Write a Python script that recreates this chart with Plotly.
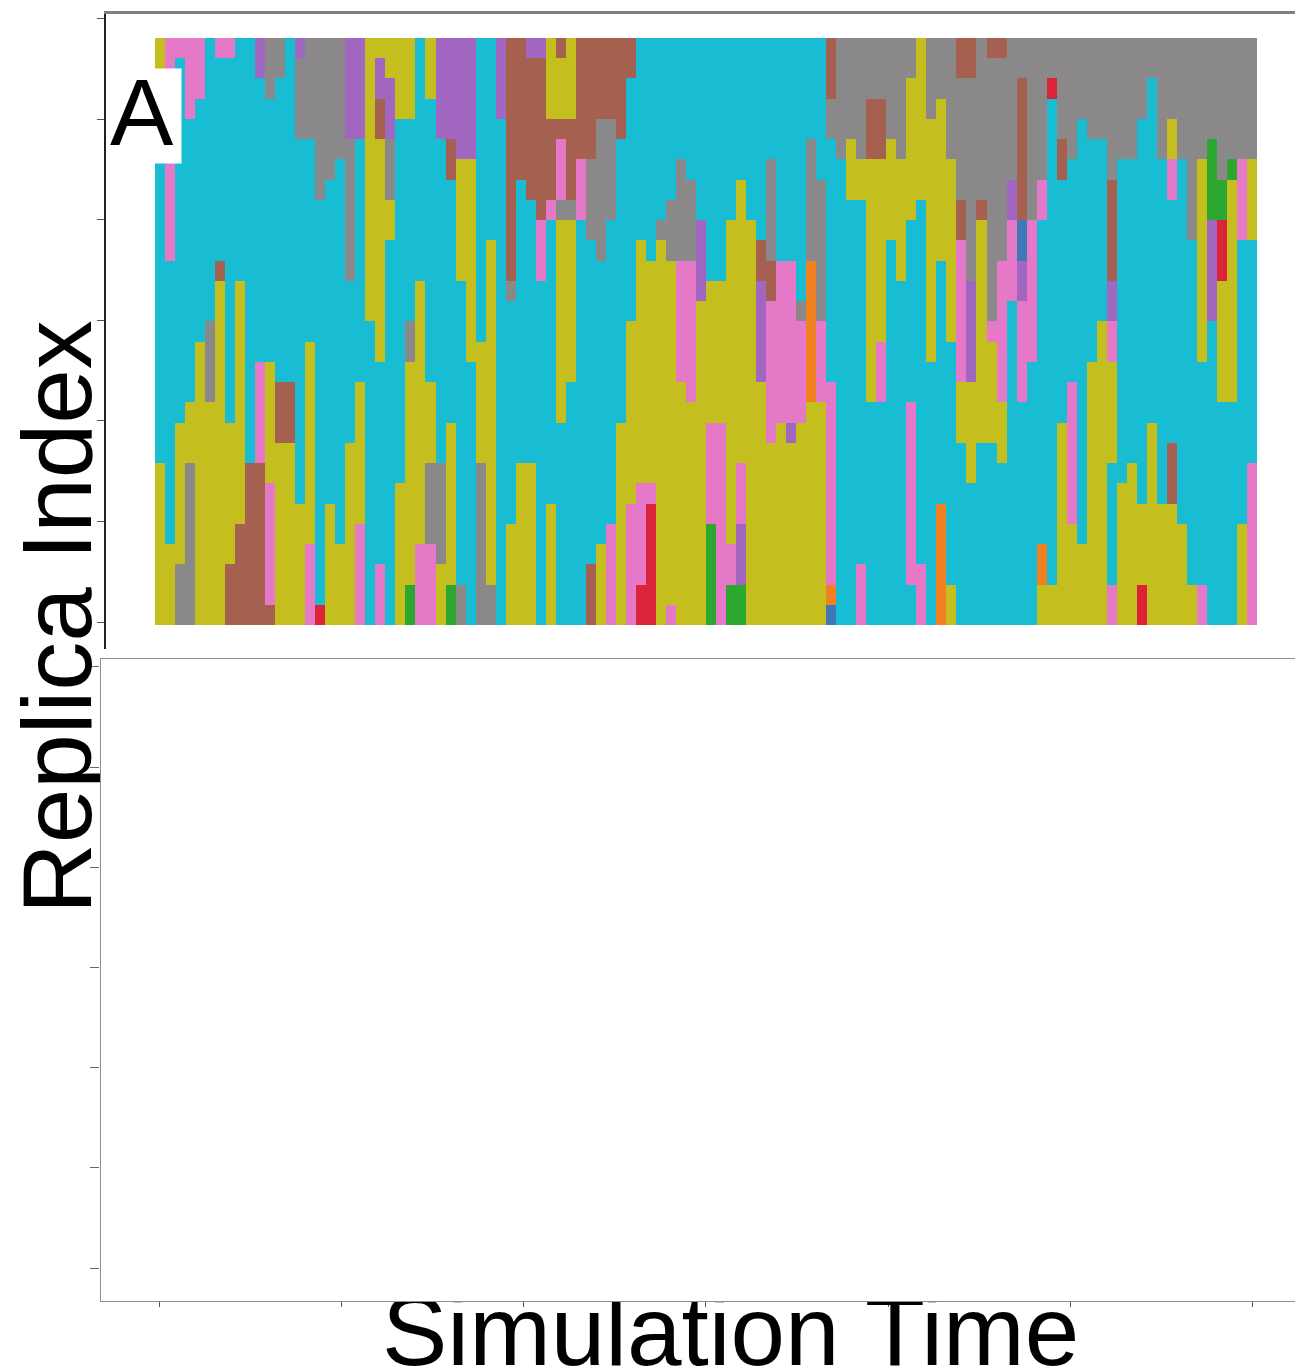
import re
import plotly.graph_objects as go

W, H = 1295, 1368

# cluster letters -> tab10-like colours
cluster_codes = ["c", "o", "g", "b", "p", "k", "r", "G", "O", "B"]
cluster_colors = ["#19bdd3", "#c4bf1e", "#8a8888", "#a5604f", "#a066c0",
                  "#e678c8", "#dc2438", "#2ca830", "#f08020", "#3f78b8"]

# one run-length string per simulation-time column, written top row to bottom row
columns_top_down = [
 "o2c19o8","k2c4k5c14o4","k1c18o7g3","k4c14o3g8","k3c12o14","c14g4o11","k1c10b1o17","k1c18o7b3","c12o12b5","c21b8",
 "p2c14k5b8","g3c13o6k6b1","g2c15b3o9","c17b3o9","p1g4c18o6","g5c10o10k4","g8c20r1","g7c16o6","g6c19o4","p5g7c8o9",
 "p5c12o7k5","o14c15","o1p2b2o11c10k3","o2p3g3o2c19","o4c18o7","o4c10g2o11G2","c12o13k4","o3c14o4g4k4","p5c16g5o3","p5b2c12o8G2",
 "p6o6c15g2","p6o10c13","c15o6g8","c10o17g2","p4c25","b12g1c11o5","b7c14o8","p1b7c13o8","p1b8k3c17","o4b4k1c14o6",
 "b1o3b1k3g1o10c10","o4b4g1o8c12","b6k3c20","b6g4c16b3","b4g7c14o4","b4g5c15k5","b5c14o10","b2c12o9k6","c10o12k5r2","c11o11k1r6",
 "c9g1o19","c8g3o17k1","c6g5k6o12","c7g4k7o11","c9p4o16","c12o7k5G5","c12o7k10","c9o16k2G2","c7o14k3p3G2","c9o20",
 "c10b2p5o12","c6g5b2k7o9","c11k8o10","c11k8p1o9","c13g1k5o10","c5g6O7o11","c7g7k4o11","b3g2c12k10O1B1","g6c23","g5o3c21",
 "g6o2c18k3","g3b3o12c11","g3b3o9k3c11","g5o5c19","g6o6c17","g2o7c9k9c2","o8c18k3","g4o12c13","g3o8c12O6","g6o9c12o2",
 "b2g6b2k7o3c9","b2g10p5o5c7","g8b1o11c9","b1g13k1o5c9","b1g10k7o3c8","g7p2k4c16","g2b7B2p2k5c11","g9k7c13","g7k2c16O2o2","g2r1c24o2",
 "g5b2c12o10","g6c11k7o5","g4c21o4","g5c11o13","g5c9o15","g7b5p2k2o5c6k2","g6c16o7","g6c15o8","g4c19o4r2","g2c17o10",
 "g6c17o6","g4o2k2c12b3o6","g6c18o5","g10c17o2","g6o10c11k2","g5G4p5c15","g7G2r3o6c11","g6G1o11c11","g6k4c14o5","g6o4c11k8",
]

x_title = "Simulation Time"
y_title = "Replica Index"
panel_label = "A"
tick_values_y = [0, 5, 10, 15, 20, 25, 30]
tick_values_x = [0, 50, 100, 150, 200, 250, 300]

N_ROWS = 29
rows = [[0] * len(columns_top_down) for _ in range(N_ROWS)]
for j, s in enumerate(columns_top_down):
    seq = []
    for letter, n in re.findall(r"([A-Za-z])(\d+)", s):
        seq += [cluster_codes.index(letter)] * int(n)
    assert len(seq) == N_ROWS, (j, s, len(seq))
    for r, v in enumerate(seq):
        rows[N_ROWS - 1 - r][j] = v


def px_x(p):
    return p / W


def px_y(p):
    return 1 - p / H


n = len(cluster_colors)
scale = []
for i, col in enumerate(cluster_colors):
    scale += [[i / n, col], [(i + 1) / n, col]]

col_px = 1102 / len(columns_top_down)
row_px = 20.12

fig = go.Figure()
fig.add_trace(go.Heatmap(
    z=rows, x0=0.5, dx=1, y0=(622 - 625) / row_px + 587 / N_ROWS / row_px / 2, dy=587 / N_ROWS / row_px,
    zmin=-0.5, zmax=n - 0.5, colorscale=scale, showscale=False, hoverinfo="skip", zsmooth=False,
))
fig.add_trace(go.Scatter(x=[], y=[], xaxis="x2", yaxis="y2", showlegend=False))

left_a, right_a = 106, 1295
top_a, bot_a = 14, 649
left_b, right_b = 100, 1295
top_b, bot_b = 658, 1300
x_scale_b = 3.645
y_scale_b = 20.04
blank = dict(text=" ", xref="paper", yref="paper", showarrow=False, xanchor="left", yanchor="top")

fig.update_layout(
    width=W, height=H, autosize=False,
    margin=dict(l=0, r=0, t=0, b=0),
    paper_bgcolor="white", plot_bgcolor="white",
    showlegend=False,
    xaxis=dict(
        domain=[px_x(left_a), px_x(right_a)],
        range=[(left_a - 155) / col_px, (right_a - 155) / col_px],
        side="top", anchor="y", showgrid=False, zeroline=False,
        showticklabels=False, ticks="", showline=True, linecolor="#808080", linewidth=3,
    ),
    yaxis=dict(
        domain=[px_y(bot_a), px_y(top_a)],
        range=[(622 - bot_a) / row_px, (622 - top_a) / row_px],
        anchor="x", showgrid=False, zeroline=False, showticklabels=False,
        tickmode="array", tickvals=tick_values_y, ticks="outside", ticklen=7,
        tickwidth=1.4, tickcolor="#555555",
        showline=True, linecolor="#222222", linewidth=1.5,
    ),
    xaxis2=dict(
        domain=[px_x(left_b), px_x(right_b)],
        range=[(left_b - 159) / x_scale_b, (right_b - 159) / x_scale_b],
        anchor="y2", showgrid=False, zeroline=False, showticklabels=False,
        tickmode="array", tickvals=tick_values_x, ticks="outside", ticklen=6,
        tickwidth=1.4, tickcolor="#555555", showline=False,
    ),
    yaxis2=dict(
        domain=[px_y(bot_b), px_y(top_b)],
        range=[(1268 - bot_b) / y_scale_b, (1268 - top_b) / y_scale_b],
        anchor="x2", showgrid=False, zeroline=False, showticklabels=False,
        tickmode="array", tickvals=tick_values_y, ticks="outside", ticklen=9,
        tickwidth=1.4, tickcolor="#666666", showline=False,
    ),
    annotations=[
        dict(text=y_title, textangle=-90, xref="paper", yref="paper", showarrow=False,
             x=px_x(57), y=px_y(617), xanchor="center", yanchor="middle",
             font=dict(family="Liberation Sans", size=98, color="black")),
        dict(text=x_title, xref="paper", yref="paper", showarrow=False,
             x=px_x(730), y=px_y(1331), xanchor="center", yanchor="middle",
             font=dict(family="Liberation Sans", size=98, color="black")),
        # panel B blank area sits on top of the two titles, as in the reference
        dict(blank, x=px_x(left_b), y=px_y(top_b),
             width=right_b - left_b + 10, height=bot_b - top_b,
             bgcolor="white", bordercolor="#8e8e8e", borderwidth=1, borderpad=0),
        dict(blank, x=px_x(110), y=px_y(68), width=68, height=92, bgcolor="white"),
        dict(text=panel_label, xref="paper", yref="paper", showarrow=False,
             x=px_x(141.5), y=px_y(112), xanchor="center", yanchor="middle",
             font=dict(family="Liberation Sans", size=95, color="black")),
    ],
)

fig.write_html("out.html", config=dict(displayModeBar=False),
               post_script="document.body.style.margin='0';document.body.style.overflow='hidden';")
